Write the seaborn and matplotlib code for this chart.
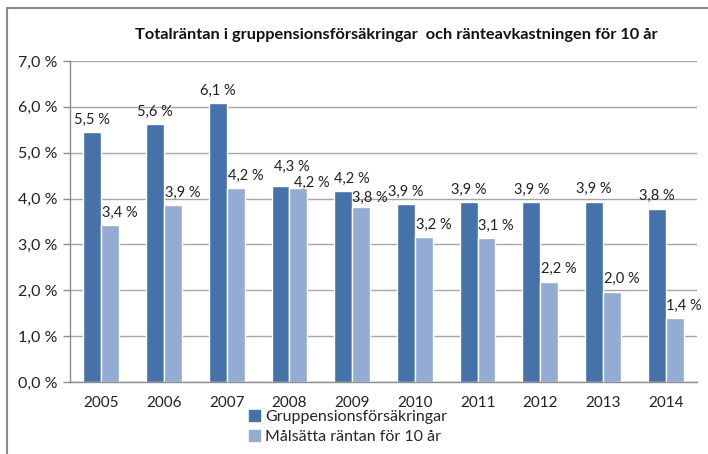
import pandas as pd
import numpy as np
import matplotlib.pyplot as plt
import seaborn as sns
from matplotlib.lines import Line2D
from matplotlib.ticker import FixedLocator

years = ["2005", "2006", "2007", "2008", "2009", "2010", "2011", "2012", "2013", "2014"]
series_names = ["Gruppensionsförsäkringar", "Målsätta räntan för 10 år"]
totalranta = [5.45, 5.62, 6.08, 4.27, 4.16, 3.88, 3.92, 3.92, 3.93, 3.78]
malranta = [3.42, 3.86, 4.22, 4.22, 3.81, 3.16, 3.13, 2.19, 1.97, 1.39]
title = "Totalräntan i gruppensionsförsäkringar  och ränteavkastningen för 10 år"

df = pd.DataFrame({
    "year": years * 2,
    "series": [series_names[0]] * len(years) + [series_names[1]] * len(years),
    "value": totalranta + malranta,
})

sns.set_style("white")
plt.rcParams["font.family"] = ["Lato", "DejaVu Sans"]

fig = plt.figure(figsize=(7.08, 4.54), dpi=100)
ax = fig.add_axes([70 / 708, 1 - 382 / 454, 627 / 708, 321 / 454])

colors = ["#4572A9", "#94ABD4"]
sns.barplot(data=df, x="year", y="value", hue="series", palette=colors,
            width=0.57, saturation=1, ax=ax, legend=False)

def pct(v):
    return f"{v:.1f} %".replace(".", ",")

# data labels, comma decimals like the original
for i, cont in enumerate(ax.containers):
    vals = [totalranta, malranta][i]
    texts = ax.bar_label(cont, labels=[pct(v) for v in vals], padding=4,
                         fontsize=10.5, color="#222222")
    if i == 0:
        # Excel nudged the crowded 2008/2009 labels
        texts[3].xyann = (8, 9)
        texts[4].xyann = (6, 4)
    else:
        for t in texts:
            t.xyann = (7, 4)
        texts[3].xyann = (10, -1)
        texts[4].xyann = (6, 1.5)

ax.set_xlim(-0.5, 9.5)
ax.set_ylim(0, 7)
yt = np.arange(0, 8, 1)
ax.set_yticks(yt)
ax.set_yticklabels([pct(v) for v in yt], fontsize=11.5, color="#222222")
ax.set_xticks(range(len(years)))
ax.set_xticklabels(years, fontsize=11, color="#222222")
ax.xaxis.set_minor_locator(FixedLocator(np.arange(-0.5, 10, 1)))
ax.tick_params(axis="x", which="major", length=0, pad=10)
ax.tick_params(axis="x", which="minor", length=5, color="#8c8c8c", width=1)
ax.tick_params(axis="y", length=5, color="#8c8c8c", width=1, left=True, pad=4)
ax.set_xlabel("")
ax.set_ylabel("")

ax.grid(axis="y", color="#a6a6a6", linewidth=1)
ax.set_axisbelow(True)
for s in ["top", "right"]:
    ax.spines[s].set_visible(False)
for s in ["left", "bottom"]:
    ax.spines[s].set_color("#8c8c8c")
    ax.spines[s].set_linewidth(1)

fig.text(396 / 708, 1 - 35 / 454, title, ha="center", va="center",
         fontsize=11.8, fontweight="bold", color="#111111")

handles = [plt.Rectangle((0, 0), 1, 1, color=c) for c in colors]
fig.legend(handles, series_names, loc="upper left", bbox_to_anchor=(249 / 708, 1 - 410 / 454),
           frameon=False, fontsize=11.5, handlelength=0.7, handleheight=0.7,
           handletextpad=0.3, labelspacing=0.35, borderpad=0, borderaxespad=0)

# outer frame lines (top and left, as in the screenshot)
fig.add_artist(Line2D([7 / 708, 7 / 708], [0, 1 - 8 / 454], color="#8a8a8a", lw=1.5, transform=fig.transFigure))
fig.add_artist(Line2D([7 / 708, 1], [1 - 8 / 454, 1 - 8 / 454], color="#8a8a8a", lw=1.5, transform=fig.transFigure))

fig.savefig("out.png", dpi=100)
